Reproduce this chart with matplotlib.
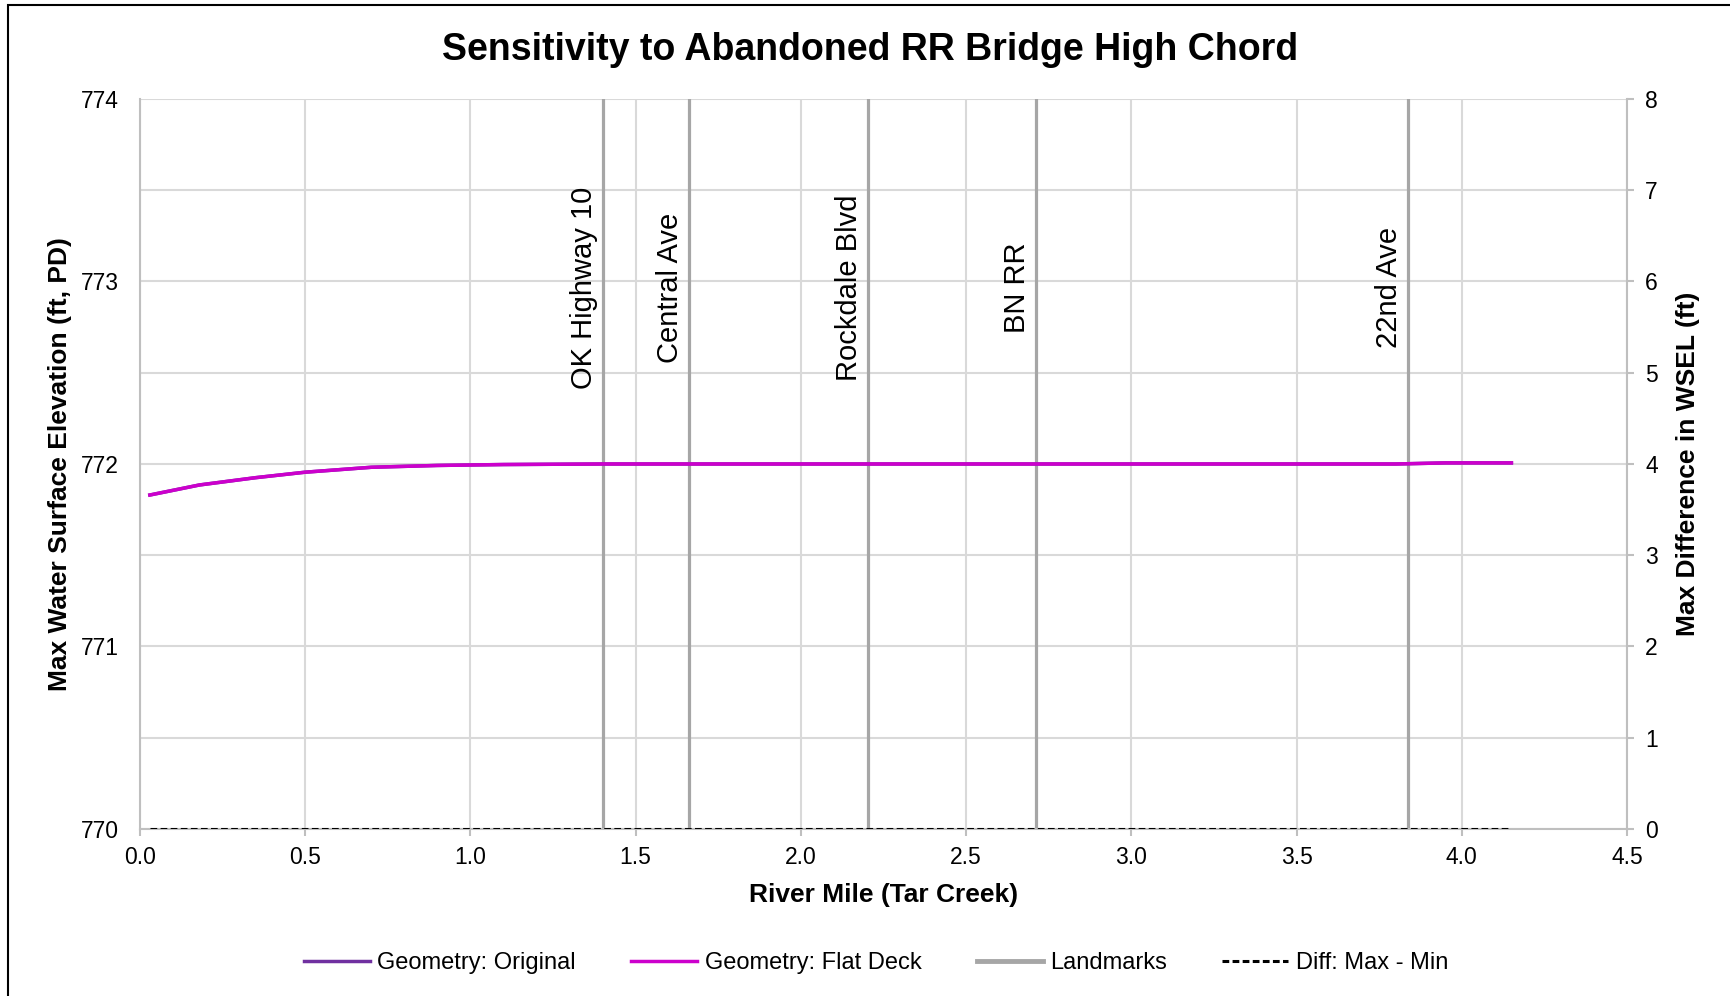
import matplotlib
matplotlib.use("Agg")
import matplotlib.pyplot as plt
from matplotlib.lines import Line2D
from matplotlib.patches import Rectangle

plt.rcParams['font.family'] = ['Liberation Sans', 'DejaVu Sans']

# ---- data ----
river_mile = [0.03, 0.18, 0.35, 0.50, 0.70, 0.90, 1.10, 1.40, 2.00, 3.00, 3.80, 3.95, 4.15]
wsel_original = [771.83, 771.885, 771.925, 771.955, 771.982, 771.992, 771.997, 772.0, 772.0, 772.0, 772.0, 772.006, 772.006]
wsel_flat_deck = [771.83, 771.885, 771.925, 771.955, 771.982, 771.992, 771.997, 772.0, 772.0, 772.0, 772.0, 772.006, 772.006]
diff_max_min = [0.0, 0.0, 0.0, 0.0, 0.0, 0.0, 0.0, 0.0, 0.0, 0.0, 0.0, 0.0, 0.0]

landmark_names = ["OK Highway 10", "Central Ave", "Rockdale Blvd", "BN RR", "22nd Ave"]
landmark_miles = [1.402, 1.662, 2.203, 2.710, 3.838]
label_elev = 772.965

x_ticks = [0.0, 0.5, 1.0, 1.5, 2.0, 2.5, 3.0, 3.5, 4.0, 4.5]
y_left_ticks = [770, 771, 772, 773, 774]
y_right_ticks = [0, 1, 2, 3, 4, 5, 6, 7, 8]

title = "Sensitivity to Abandoned RR Bridge High Chord"
x_label = "River Mile (Tar Creek)"
y_left_label = "Max Water Surface Elevation (ft, PD)"
y_right_label = "Max Difference in WSEL (ft)"

# ---- figure ----
fig = plt.figure(figsize=(17.3, 9.96), dpi=100)
ax = fig.add_axes([0.0809, 0.1677, 0.9405 - 0.0809, 0.9006 - 0.1677])
ax2 = ax.twinx()

grid_c = '#D9D9D9'
spine_c = '#BFBFBF'
land_c = '#A6A6A6'

ax.set_xlim(0, 4.5)
ax.set_ylim(770, 774)
ax2.set_ylim(0, 8)

ax.set_xticks(x_ticks)
ax.set_xticklabels([f"{v:.1f}" for v in x_ticks])
ax.set_yticks(y_left_ticks)
ax.set_yticklabels([str(v) for v in y_left_ticks])
ax.set_yticks([770.5, 771.5, 772.5, 773.5], minor=True)
ax2.set_yticks(y_right_ticks)

ax.grid(True, which='both', axis='y', color=grid_c, lw=1.5, zorder=0)
ax.grid(True, which='major', axis='x', color=grid_c, lw=1.5, zorder=0)
ax.set_axisbelow(True)

ax.spines['top'].set_visible(False)
ax2.spines['top'].set_visible(False)
ax2.spines['left'].set_visible(False)
ax2.spines['bottom'].set_visible(False)
ax.spines['right'].set_visible(False)
ax.spines['left'].set_color(spine_c)
ax.spines['bottom'].set_color(spine_c)
ax2.spines['right'].set_color(spine_c)
ax.spines['left'].set_linewidth(1.5)
ax.spines['bottom'].set_linewidth(1.5)
ax2.spines['right'].set_linewidth(1.5)

ax.tick_params(axis='x', which='major', direction='out', length=5, width=1.5, color=spine_c,
               labelsize=16.5, pad=7)
ax.tick_params(axis='y', which='both', length=0, labelsize=16.5, pad=15)
ax2.tick_params(axis='y', direction='out', length=5, width=1.5, color=spine_c, labelsize=16.5, pad=8)

# landmarks
for name, m in zip(landmark_names, landmark_miles):
    ax.axvline(m, color=land_c, lw=2.3, zorder=2)
    ax.annotate(name, xy=(m, label_elev), xytext=(-19, 0), textcoords='offset pixels',
                rotation=90, ha='center', va='center', fontsize=21, color='black', zorder=5)

# series
ax.plot(river_mile, wsel_original, color='#7030A0', lw=2.5, zorder=3)
ax.plot(river_mile, wsel_flat_deck, color='#CC00CC', lw=2.5, zorder=4)
ax2.plot(river_mile, diff_max_min, color='black', lw=2.2, ls=(0, (2.2, 1.1)), zorder=4)

fig.text(870 / 1730, 1 - 49.5 / 996, title, fontsize=27, fontweight='bold', ha='center', va='center')
ax.set_xlabel(x_label, fontsize=19, fontweight='bold', labelpad=10)
ax.set_ylabel(y_left_label, fontsize=19, fontweight='bold', labelpad=6.5)
ax2.set_ylabel(y_right_label, fontsize=19, fontweight='bold', labelpad=13)

handles = [
    Line2D([], [], color='#7030A0', lw=2.5),
    Line2D([], [], color='#CC00CC', lw=2.5),
    Line2D([], [], color=land_c, lw=3.5),
    Line2D([], [], color='black', lw=2.2, ls=(0, (2.2, 1.1))),
]
labels = ["Geometry: Original", "Geometry: Flat Deck", "Landmarks", "Diff: Max - Min"]
fig.legend(handles, labels, loc='center', bbox_to_anchor=(876 / 1730, 1 - 963 / 996),
           ncol=4, frameon=False, fontsize=17, handlelength=2.8, handletextpad=0.3,
           columnspacing=2.35)

# outer border
fig.patches.append(Rectangle((7.7 / 1730, -0.05), 1.2, 1 - 4.6 / 996 + 0.05,
                             transform=fig.transFigure, fill=False, edgecolor='black', lw=1.5))

fig.savefig("out.png", dpi=100)
